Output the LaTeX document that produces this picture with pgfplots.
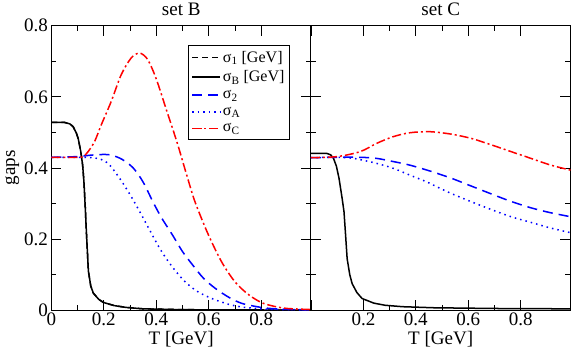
\documentclass[border=0pt]{standalone}
\usepackage{pgfplots}
\pgfplotsset{compat=1.18}
\usepackage{fontspec}
\setmainfont{Liberation Serif}

\pgfplotsset{
  gapaxis/.style={
    scale only axis,
    width=259pt, height=284pt,
    xmin=0, xmax=0.99, ymin=0, ymax=0.8,
    minor x tick num=1, minor y tick num=1,
    major tick length=10pt, minor tick length=5pt,
    tick align=inside,
    every tick/.style={black, line width=0.8pt},
    axis line style={line width=1pt},
    xlabel={T [GeV]},
    xlabel style={yshift=1pt},
    xticklabel style={yshift=1pt},
    yticklabel style={xshift=0pt},
    title style={yshift=0pt},
    /pgf/number format/assume math mode=true,
    legend image code/.code={\draw[#1, line width=1.5pt] plot coordinates {(0pt,0pt) (28pt,0pt)};},
  },
  sigB/.style={black, line width=1.5pt},
  sig1/.style={black, line width=1.5pt, dash pattern=on 6pt off 4pt},
  sig2/.style={blue, line width=1.5pt, dash pattern=on 10pt off 6pt},
  sigA/.style={blue, line width=1.5pt, dash pattern=on 1.5pt off 4pt},
  sigC/.style={red, line width=1.5pt, dash pattern=on 9pt off 3pt on 2pt off 3pt},
}

\begin{document}
\begin{tikzpicture}[font=\fontsize{19}{22}\selectfont]
\begin{axis}[gapaxis, name=left,
  title={set B}, ylabel={gaps},
  ylabel style={yshift=-2pt},
  xtick={0,0.2,0.4,0.6,0.8},
  ytick={0,0.2,0.4,0.6,0.8},
  legend style={at={(0.918,0.933)}, anchor=north east, draw=black,
    font=\fontsize{16}{17}\selectfont, row sep=3pt, inner xsep=3pt, inner ysep=4pt},
  legend cell align=left,
]
\addplot[sig1] coordinates {
(0,0.528) (0.05,0.528) (0.07,0.524) (0.083,0.516) (0.095,0.498) (0.102,0.483)
(0.112,0.446) (0.119,0.408) (0.124,0.361) (0.129,0.29) (0.134,0.21) (0.141,0.11)
(0.150,0.068) (0.160,0.048) (0.18,0.031) (0.198,0.022) (0.24,0.013) (0.285,0.008)
(0.35,0.004) (0.475,0.002) (0.6,0.001) (0.99,0.0005)};
\addlegendentry{σ\textsubscript{1} [GeV]}
\addplot[sigB] coordinates {
(0,0.528) (0.05,0.528) (0.07,0.524) (0.083,0.516) (0.095,0.498) (0.102,0.483)
(0.112,0.446) (0.119,0.408) (0.124,0.361) (0.129,0.29) (0.134,0.21) (0.141,0.11)
(0.150,0.068) (0.160,0.048) (0.18,0.031) (0.198,0.022) (0.24,0.013) (0.285,0.008)
(0.35,0.004) (0.475,0.002) (0.6,0.001) (0.99,0.0005)};
\addlegendentry{σ\textsubscript{B} [GeV]}
\addplot[sig2, smooth] coordinates {
(0,0.43) (0.1,0.432) (0.15,0.436) (0.2,0.438) (0.23,0.436) (0.27,0.424) (0.312,0.40)
(0.35,0.36) (0.387,0.305) (0.42,0.26) (0.463,0.21) (0.5,0.165) (0.539,0.127)
(0.58,0.09) (0.626,0.061) (0.68,0.035) (0.728,0.019) (0.8,0.008) (0.853,0.004)
(0.92,0.002) (0.99,0.001)};
\addlegendentry{σ\textsubscript{2}}
\addplot[sigA, smooth] coordinates {
(0,0.43) (0.1,0.43) (0.15,0.429) (0.186,0.425) (0.22,0.41) (0.261,0.37) (0.3,0.325)
(0.337,0.277) (0.375,0.225) (0.413,0.174) (0.445,0.138) (0.476,0.108) (0.51,0.08)
(0.55,0.056) (0.59,0.04) (0.626,0.029) (0.68,0.016) (0.728,0.009) (0.8,0.004)
(0.88,0.002) (0.99,0.001)};
\addlegendentry{σ\textsubscript{A}}
\addplot[sigC, smooth] coordinates {
(0,0.43) (0.1,0.43) (0.121,0.432) (0.14,0.446) (0.165,0.475) (0.19,0.521) (0.228,0.587)
(0.266,0.662) (0.304,0.709) (0.336,0.723) (0.367,0.705) (0.40,0.65) (0.44,0.56)
(0.48,0.47) (0.52,0.37) (0.55,0.30) (0.6,0.21) (0.65,0.135) (0.7,0.08) (0.75,0.045)
(0.8,0.022) (0.85,0.011) (0.9,0.005) (0.99,0.002)};
\addlegendentry{σ\textsubscript{C}}
\end{axis}

\begin{axis}[gapaxis, at={(left.south east)}, anchor=south west,
  title={set C},
  xtick={0.2,0.4,0.6,0.8},
  extra x ticks={0}, extra x tick labels={},
  ytick={0,0.2,0.4,0.6,0.8}, yticklabels={},
]
\addplot[sigB] coordinates {
(0,0.441) (0.06,0.441) (0.075,0.437) (0.086,0.427) (0.097,0.405) (0.107,0.371)
(0.119,0.314) (0.126,0.277) (0.132,0.212) (0.138,0.145) (0.148,0.1) (0.157,0.075)
(0.175,0.05) (0.195,0.033) (0.24,0.02) (0.283,0.014) (0.35,0.01) (0.47,0.007)
(0.7,0.005) (0.99,0.004)};
\addplot[sig2, smooth] coordinates {
(0,0.429) (0.1,0.43) (0.188,0.43) (0.25,0.427) (0.314,0.418) (0.377,0.408)
(0.46,0.39) (0.536,0.371) (0.612,0.349) (0.688,0.327) (0.763,0.306) (0.839,0.288)
(0.915,0.274) (0.99,0.263)};
\addplot[sigA, smooth] coordinates {
(0,0.429) (0.1,0.43) (0.162,0.427) (0.25,0.413) (0.314,0.399) (0.377,0.38)
(0.441,0.361) (0.486,0.345) (0.536,0.328) (0.612,0.305) (0.688,0.283) (0.763,0.263)
(0.839,0.247) (0.915,0.231) (0.99,0.218)};
\addplot[sigC, smooth] coordinates {
(0,0.429) (0.1,0.432) (0.188,0.446) (0.25,0.469) (0.314,0.488) (0.377,0.499)
(0.453,0.502) (0.536,0.495) (0.612,0.483) (0.688,0.465) (0.763,0.446) (0.839,0.427)
(0.915,0.408) (0.99,0.394)};
\end{axis}
\path ([xshift=-2pt]current bounding box.west);
\end{tikzpicture}
\end{document}
